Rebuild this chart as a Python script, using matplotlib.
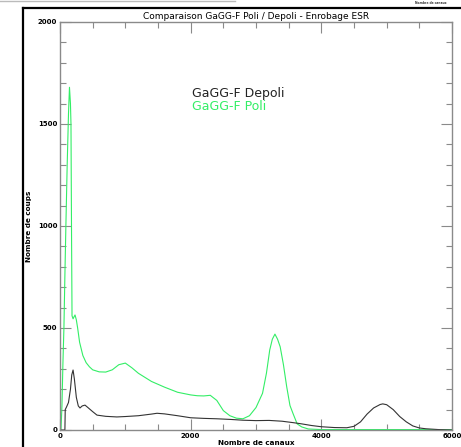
import matplotlib
matplotlib.use("Agg")
import matplotlib.pyplot as plt
from matplotlib.lines import Line2D
from matplotlib.ticker import MultipleLocator

# ---- data ----
poli_ch = [0, 15, 30, 45, 60, 75, 90, 110, 130, 145, 160, 168, 176, 184, 200, 215, 230,
           250, 270, 300, 350, 400, 450, 500, 600, 700, 800, 900, 1000, 1100, 1200,
           1400, 1600, 1800, 2000, 2100, 2200, 2300, 2400, 2500, 2600, 2700, 2800,
           2900, 3000, 3100, 3160, 3210, 3250, 3290, 3330, 3370, 3420, 3470, 3520,
           3570, 3630, 3700, 3800, 4000, 5000, 6000]
poli_val = [0, 0, 120, 330, 500, 760, 1000, 1300, 1550, 1680, 1600, 1500, 1000, 560, 545,
            555, 564, 540, 500, 430, 365, 330, 310, 295, 285, 284, 295, 320, 328, 305,
            278, 238, 210, 185, 172, 168, 167, 170, 145, 95, 70, 58, 55,
            70, 110, 180, 279, 392, 445, 470, 445, 408, 320, 212, 120,
            78, 30, 15, 5, 2, 2, 2]

depoli_ch = [0, 75, 80, 100, 130, 160, 180, 200, 220, 250, 280, 306, 340, 383, 420, 500,
             566, 700, 870, 1000, 1200, 1400, 1485, 1600, 1800, 2000, 2200, 2400, 2600,
             2800, 3000, 3200, 3400, 3570, 3700, 3850, 4000, 4200, 4390, 4500, 4600,
             4700, 4800, 4900, 4940, 5000, 5100, 5200, 5300, 5400, 5500, 5600, 5800, 6000]
depoli_val = [0, 0, 100, 113, 135, 200, 270, 294, 250, 160, 118, 108, 118, 122, 112, 90,
              73, 67, 64, 66, 70, 78, 82, 79, 70, 60, 57, 55, 52,
              48, 46, 47, 43, 36, 30, 22, 16, 12, 11, 18, 40,
              78, 108, 125, 128, 124, 100, 66, 40, 20, 10, 6, 2, 0]

x_ticks = [0, 2000, 4000, 6000]
y_ticks = [0, 500, 1000, 1500, 2000]

title = "Comparaison GaGG-F Poli / Depoli - Enrobage ESR"
xlabel = "Nombre de canaux"
ylabel = "Nombre de coups"
label_depoli = "GaGG-F Depoli"
label_poli = "GaGG-F Poli"

# ---- figure ----
W, H = 461, 447
fig = plt.figure(figsize=(W / 100, H / 100), dpi=100)
fig.patch.set_facecolor("white")

# page frame (screenshot border)
fig.add_artist(Line2D([23 / W, 23 / W], [0, 1 - 8 / H], color="black", lw=1.6,
                      transform=fig.transFigure))
fig.add_artist(Line2D([23 / W, 1], [1 - 8 / H, 1 - 8 / H], color="black", lw=1.6,
                      transform=fig.transFigure))
fig.add_artist(Line2D([0, 235 / W], [1 - 1 / H, 1 - 1 / H], color="#bbbbbb", lw=1.0,
                      transform=fig.transFigure))
fig.text(431 / W, 1 - 3.5 / H, xlabel, fontsize=2.2, fontweight="bold",
         ha="center", va="center", color="#333333")

ax = fig.add_axes([60 / W, 1 - 430 / H, (452 - 60) / W, (430 - 22) / H])
green = "#33ee66"
ax.plot(poli_ch, poli_val, color=green, lw=0.8)
ax.plot(depoli_ch, depoli_val, color="#333333", lw=0.8)

ax.set_xlim(0, 6000)
ax.set_ylim(0, 2000)
ax.set_xticks(x_ticks)
ax.set_yticks(y_ticks)
ax.xaxis.set_minor_locator(MultipleLocator(500))
ax.yaxis.set_minor_locator(MultipleLocator(100))

gray = "#8a8a8a"
for s in ax.spines.values():
    s.set_color(gray)
    s.set_linewidth(1.0)
ax.tick_params(which="both", direction="in", top=True, right=True, color=gray,
               width=0.8, labelsize=5, pad=2)
ax.tick_params(which="major", length=8)
ax.tick_params(which="minor", length=4)
for lab in ax.get_xticklabels() + ax.get_yticklabels():
    lab.set_fontweight("bold")

ax.set_title(title, fontsize=6.5, pad=2)
ax.set_xlabel(xlabel, fontsize=5.2, fontweight="bold", labelpad=1)
ax.set_ylabel(ylabel, fontsize=5.2, fontweight="bold", labelpad=4)

ax.text(192 / W, 1 - 93 / H, label_depoli, transform=fig.transFigure,
        color="#222222", fontsize=9, va="center", ha="left")
ax.text(192 / W, 1 - 107 / H, label_poli, transform=fig.transFigure,
        color=green, fontsize=9, va="center", ha="left")

fig.savefig("out.png", dpi=100)
